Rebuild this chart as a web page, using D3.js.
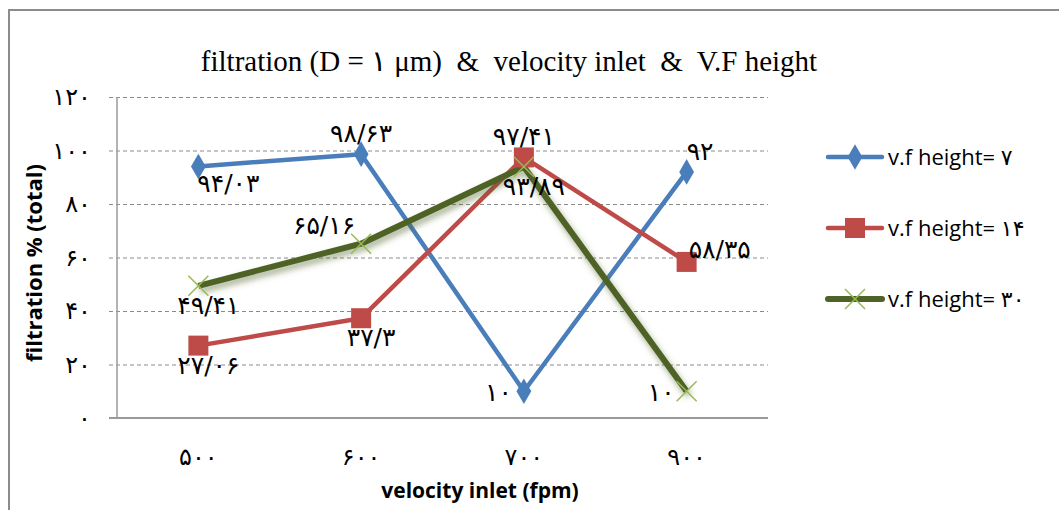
<!DOCTYPE html>
<html>
<head>
<meta charset="utf-8">
<title>filtration & velocity inlet & V.F height</title>
<script src="https://cdn.jsdelivr.net/npm/d3@7"></script>
<style>
  body { margin: 0; background: #fff; }
  .fa { font-family: "DejaVu Sans", serif; }
</style>
</head>
<body>
<svg id="svg"></svg>
<script>
var width = 1059, height = 510;
var margins = {top: 97, left: 117, right: 291, bottom: 92};

// data
var categories = ["۵۰۰", "۶۰۰", "۷۰۰", "۹۰۰"];
var seriesNames = ["v.f height= ۷", "v.f height= ۱۴", "v.f height= ۳۰"];
var height7  = [94.03, 98.63, 10, 92];
var height14 = [27.06, 37.3, 97.41, 58.35];
var height30 = [49.41, 65.16, 93.89, 10];
var yTicks = [0, 20, 40, 60, 80, 100, 120];

// label placement for each point (above / below / left / right)
var place7  = ["belowR", "above", "left", "aboveR"];
var place14 = ["below", "below", "above", "right"];
var place30 = ["below", "aboveL", "below", "left"];

var colors = ["#4A7EBB", "#BE4B48", "#4F6228"];
var markerColors = ["#4A7EBB", "#BE4B48", "#98B954"];

var fa = function(n) {
    return String(n).replace(".", "/").replace(/[0-9]/g, function(c) { return "۰۱۲۳۴۵۶۷۸۹"[+c]; });
};

var series = [
    {name: seriesNames[0], values: height7,  place: place7,  symbol: "diamond"},
    {name: seriesNames[1], values: height14, place: place14, symbol: "square"},
    {name: seriesNames[2], values: height30, place: place30, symbol: "x"}
];

var svg = d3.select("#svg").attr("width", width).attr("height", height);

// outer frame
svg.append("rect")
    .attr("x", 9).attr("y", 10)
    .attr("width", width + 20).attr("height", height + 20)
    .attr("fill", "none").attr("stroke", "#8c8c8c").attr("stroke-width", 2);

// title
svg.append("text")
    .attr("x", 509).attr("y", 71)
    .attr("text-anchor", "middle")
    .attr("xml:space", "preserve")
    .style("white-space", "pre")
    .style("font-family", "'Liberation Serif', 'DejaVu Serif', serif")
    .style("font-size", "29px")
    .text("filtration (D = ١ μm)  &  velocity inlet  &  V.F height");

var plotW = width - margins.left - margins.right;
var plotH = height - margins.top - margins.bottom;

var x = d3.scaleBand().domain(categories).range([0, plotW]);
var y = d3.scaleLinear().domain([0, 120]).range([plotH, 0]);

var g = svg.append("g").attr("transform", "translate(" + margins.left + "," + margins.top + ")");

// gridlines
var yAxis = d3.axisLeft(y).tickValues(yTicks).tickSize(-plotW).tickPadding(26).tickFormat(fa);
var yg = g.append("g").call(yAxis);
yg.select(".domain").remove();
yg.selectAll(".tick line")
    .attr("x1", -8)
    .attr("stroke", "#8a8a8a")
    .attr("stroke-dasharray", "4,3");
yg.selectAll(".tick").filter(function(d) { return d === 0; }).select("line").remove();
yg.selectAll(".tick text")
    .attr("class", "fa")
    .style("font-size", "24px")
    .attr("fill", "#000");

// axes lines
g.append("line").attr("x1", 0).attr("x2", 0).attr("y1", 0).attr("y2", plotH)
    .attr("stroke", "#9a9a9a").attr("stroke-width", 1.5);
g.append("line").attr("x1", -8).attr("x2", plotW).attr("y1", plotH).attr("y2", plotH)
    .attr("stroke", "#9a9a9a").attr("stroke-width", 2);

// x axis labels
var xAxis = d3.axisBottom(x).tickSize(0).tickPadding(30);
var xg = g.append("g").attr("transform", "translate(0," + plotH + ")").call(xAxis);
xg.select(".domain").remove();
xg.selectAll(".tick text")
    .attr("class", "fa")
    .style("font-size", "24px")
    .attr("fill", "#000");

// axis titles
svg.append("text")
    .attr("x", 480).attr("y", 498)
    .attr("text-anchor", "middle")
    .style("font-family", "'Open Sans', 'Liberation Sans', sans-serif")
    .style("font-weight", "bold")
    .style("font-size", "21px")
    .text("velocity inlet (fpm)");

svg.append("text")
    .attr("transform", "translate(42,263)rotate(-90)")
    .attr("text-anchor", "middle")
    .style("font-family", "'Open Sans', 'Liberation Sans', sans-serif")
    .style("font-weight", "bold")
    .style("font-size", "22px")
    .text("filtration % (total)");

// soft shadow for the green line
var defs = svg.append("defs");
var f = defs.append("filter").attr("id", "glow").attr("x", "-10%").attr("y", "-30%").attr("width", "120%").attr("height", "160%");
f.append("feGaussianBlur").attr("in", "SourceAlpha").attr("stdDeviation", 3).attr("result", "b");
f.append("feOffset").attr("in", "b").attr("dx", 2).attr("dy", 4).attr("result", "o");
f.append("feFlood").attr("flood-color", "#4F6228").attr("flood-opacity", 0.55);
f.append("feComposite").attr("in2", "o").attr("operator", "in").attr("result", "s");
var fm = f.append("feMerge");
fm.append("feMergeNode").attr("in", "s");
fm.append("feMergeNode").attr("in", "SourceGraphic");

var cx = function(i) { return x(categories[i]) + x.bandwidth() / 2; };
var line = d3.line().x(function(d, i) { return cx(i); }).y(function(d) { return y(d); });

var drawMarker = function(sel, s, k, px, py) {
    if (s.symbol === "diamond") {
        sel.append("path").attr("d", d3.symbol(d3.symbolDiamond, 190)())
            .attr("transform", "translate(" + px + "," + py + ")")
            .attr("fill", markerColors[k]);
    } else if (s.symbol === "square") {
        sel.append("rect").attr("x", px - 10).attr("y", py - 10).attr("width", 20).attr("height", 20)
            .attr("fill", markerColors[k]);
    } else {
        sel.append("path")
            .attr("d", "M" + (px - 10) + "," + (py - 10) + "L" + (px + 10) + "," + (py + 10) +
                       "M" + (px - 10) + "," + (py + 10) + "L" + (px + 10) + "," + (py - 10))
            .attr("stroke", markerColors[k]).attr("stroke-width", 1.5);
    }
};

series.forEach(function(s, k) {
    g.append("path")
        .datum(s.values)
        .attr("d", line)
        .attr("fill", "none")
        .attr("stroke", colors[k])
        .attr("stroke-width", k === 2 ? 6 : 4.5)
        .attr("stroke-linejoin", "round")
        .attr("filter", k === 2 ? "url(#glow)" : null);
});

series.forEach(function(s, k) {
    s.values.forEach(function(v, i) {
        drawMarker(g, s, k, cx(i), y(v));
    });
});

// data labels
var offsets = {
    above:  [0, -12, "middle"],
    aboveR: [0, -12, "start"],
    aboveL: [-6, -10, "end"],
    below:  [10, 28, "middle"],
    belowR: [30, 26, "middle"],
    left:   [-12, 10, "end"],
    right:  [2, -4, "start"]
};
series.forEach(function(s, k) {
    s.values.forEach(function(v, i) {
        var o = offsets[s.place[i]];
        g.append("text")
            .attr("class", "fa")
            .attr("x", cx(i) + o[0])
            .attr("y", y(v) + o[1])
            .attr("text-anchor", o[2])
            .style("font-size", "25px")
            .text(fa(v));
    });
});

// legend
var legend = svg.append("g").attr("transform", "translate(828,157)");
series.forEach(function(s, k) {
    var row = legend.append("g").attr("transform", "translate(0," + (k * 71) + ")");
    row.append("line").attr("x1", 0).attr("x2", 54).attr("y1", 0).attr("y2", 0)
        .attr("stroke", colors[k]).attr("stroke-width", k === 2 ? 6 : 4.5).attr("stroke-linecap", "round");
    drawMarker(row, s, k, 27, 0);
    row.append("text")
        .attr("x", 60).attr("y", 8)
        .style("font-family", "'Open Sans', 'DejaVu Sans', sans-serif")
        .style("font-size", "22px")
        .text(s.name);
});
</script>
</body>
</html>
